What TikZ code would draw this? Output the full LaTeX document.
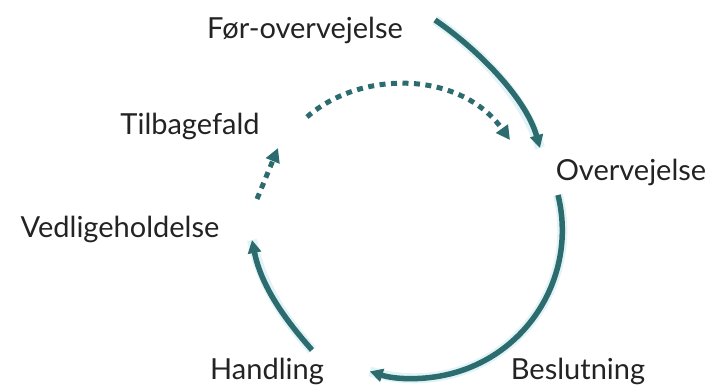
\documentclass[tikz,border=0pt]{standalone}
\usepackage{fontspec}
\setmainfont{Lato}
\usetikzlibrary{arrows.meta}
\definecolor{teal1}{RGB}{44,108,110}
\definecolor{halo}{RGB}{205,235,240}
\definecolor{txt}{RGB}{35,35,35}
\begin{document}
\begin{tikzpicture}[x=1pt,y=-1pt,
  lbl/.style={text=txt,font=\fontsize{29}{34}\selectfont,inner sep=0pt},
  solidarr/.style={draw=teal1,line width=5.5pt,-{Triangle[length=13pt,width=13pt]}},
  dotarr/.style={draw=teal1,line width=5pt,dash pattern=on 6pt off 5.5pt,-{Triangle[length=14pt,width=14pt]}},
  glow/.style={draw=halo,line width=10pt,opacity=0.6}]
\useasboundingbox (0,0) rectangle (712,389);
% labels
\node[lbl] (pre) at (305,30) {Før-overvejelse};
\node[lbl] (ove) at (631,172) {Overvejelse};
\node[lbl] (bes) at (578,371) {Beslutning};
\node[lbl] (han) at (267,371) {Handling};
\node[lbl] (ved) at (120,229) {Vedligeholdelse};
\node[lbl] (til) at (190,126) {Tilbagefald};
% coordinates
\coordinate (a1) at (435,20);
\coordinate (a2) at (540,148);
\coordinate (b1) at (558,195);
\coordinate (c1) at (312,350);
\coordinate (c2) at (252,240);
\coordinate (d1) at (307,117);
\coordinate (d2) at (510,140);
\coordinate (e1) at (257,199);
\coordinate (e2) at (278,148);
% glows
\path[glow] (a1) .. controls (472,45) and (525,95) .. (a2);
\path[glow] (b1) arc[start angle=-13.8, end angle=107.5, radius=148];
\path[glow] (c1) .. controls (290,325) and (262,290) .. (c2);
% arrows
\draw[solidarr] (a1) .. controls (472,45) and (525,95) .. (a2);
\draw[solidarr] (b1) arc[start angle=-13.8, end angle=107.5, radius=148];
\draw[solidarr] (c1) .. controls (290,325) and (262,290) .. (c2);
\draw[dotarr] (d1) .. controls (360,70) and (460,70) .. (d2);
\draw[dotarr] (e1) -- (e2);
\end{tikzpicture}
\end{document}
